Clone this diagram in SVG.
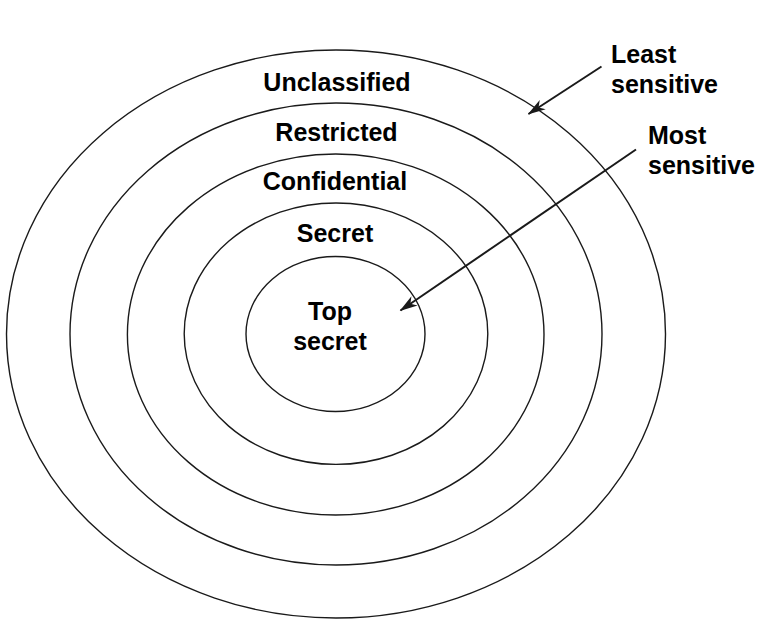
<svg xmlns="http://www.w3.org/2000/svg" width="767" height="623" viewBox="0 0 767 623">
<style>
  .ring { fill: none; stroke: #1a1a1a; stroke-width: 1.4; }
  .lbl { font-family: "Liberation Sans", Arial, sans-serif; font-weight: bold; font-size: 25px; fill: #000; }
  .mid { text-anchor: middle; }
  .arrow { stroke: #1a1a1a; stroke-width: 2; fill: none; marker-end: url(#ah); }
</style>
<defs>
  <marker id="ah" viewBox="0 0 18 12" refX="17" refY="6" markerWidth="18" markerHeight="12" markerUnits="userSpaceOnUse" orient="auto">
    <path d="M0,0.5 L18,6 L0,11.5 L5,6 Z" fill="#1a1a1a"/>
  </marker>
</defs>
<rect width="767" height="623" fill="#fff"/>
<g id="unclassified">
  <ellipse class="ring" cx="336" cy="334" rx="329.5" ry="284"/>
  <text class="lbl mid" x="337" y="90.5">Unclassified</text>
</g>
<g id="restricted">
  <ellipse class="ring" cx="336" cy="334" rx="266" ry="231"/>
  <text class="lbl mid" x="336.5" y="140.5">Restricted</text>
</g>
<g id="confidential">
  <ellipse class="ring" cx="335.7" cy="334.5" rx="208.3" ry="180.5"/>
  <text class="lbl mid" x="335" y="190">Confidential</text>
</g>
<g id="secret">
  <ellipse class="ring" cx="336" cy="333.7" rx="151.8" ry="130.7"/>
  <text class="lbl mid" x="335" y="241.5">Secret</text>
</g>
<g id="top-secret">
  <ellipse class="ring" cx="335.5" cy="334" rx="89.5" ry="77.5"/>
  <text class="lbl mid" x="330" y="320">Top</text>
  <text class="lbl mid" x="330" y="350">secret</text>
</g>
<g id="least-sensitive">
  <text class="lbl" x="611" y="63">Least</text>
  <text class="lbl" x="611" y="93">sensitive</text>
</g>
<g id="most-sensitive">
  <text class="lbl" x="648" y="144">Most</text>
  <text class="lbl" x="648" y="174">sensitive</text>
</g>
<g id="connectors">
  <line class="arrow" x1="601.5" y1="66.5" x2="528.5" y2="114"/>
  <line class="arrow" x1="636" y1="149.5" x2="400.5" y2="310.5"/>
</g>
</svg>
